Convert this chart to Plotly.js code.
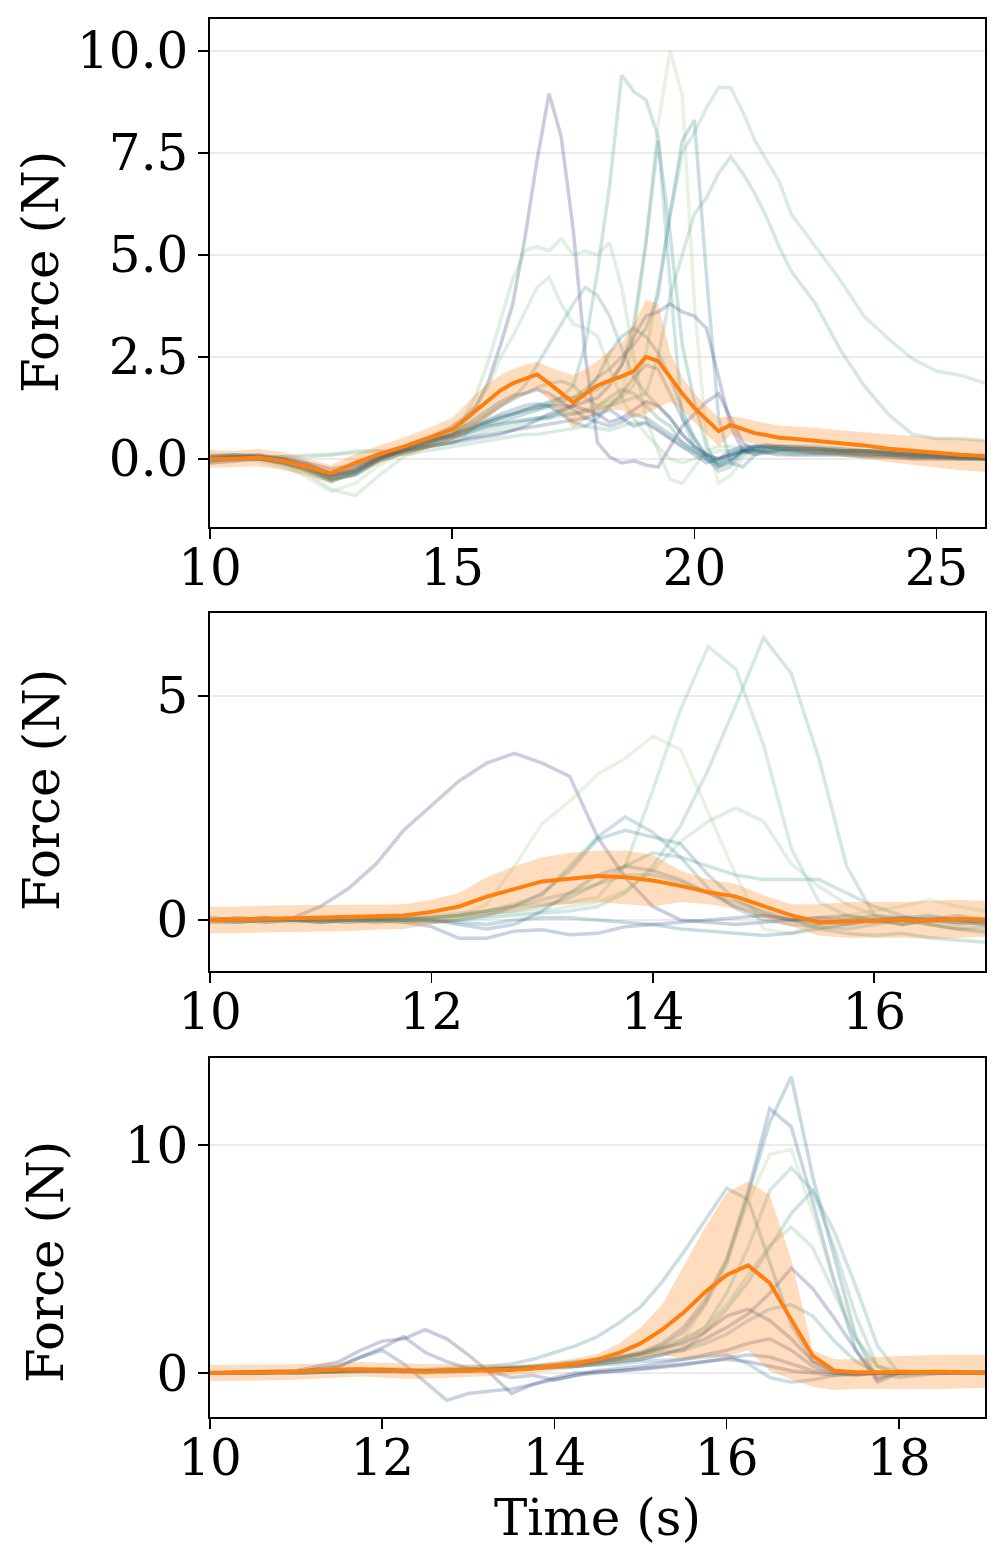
<!DOCTYPE html>
<html>
<head>
<meta charset="utf-8">
<script src="https://cdn.plot.ly/plotly-3.0.1.min.js"></script>
<style>html,body{margin:0;padding:0;background:#fff;}#chart{width:1006px;height:1566px;}</style>
</head>
<body>
<div id="chart"></div>
<script>
// ---------------- Panel 1 data ----------------
const time1 = [10,10.5,11,11.5,12,12.5,13,13.5,14,14.5,15,
  15.25,15.5,15.75,16,16.25,16.5,16.75,17,17.25,17.5,17.75,18,18.25,18.5,18.75,19,19.25,19.5,19.75,20,20.25,20.5,20.75,21,21.25,21.5,21.75,22,
  22.5,23,23.5,24,24.5,25,25.5,26];
const p1_trialA = [0.02,0.05,0.08,0.0,-0.15,-0.35,-0.2,0.05,0.25,0.5,0.8,
  1.0,1.3,1.9,2.8,3.8,5.4,7.3,8.95,7.9,5.6,2.5,0.4,0.05,-0.1,-0.05,-0.15,-0.2,0.3,0.8,1.1,1.4,1.6,1.0,0.4,0.2,0.2,0.25,0.25,
  0.2,0.2,0.15,0.1,0.1,0.05,0.05,0.0];
const p1_trialB = [-0.05,0.0,0.0,-0.1,-0.3,-0.55,-0.35,0.0,0.2,0.4,0.6,
  0.7,0.85,0.95,1.05,1.1,1.2,1.3,1.35,1.5,1.8,2.8,4.6,6.7,9.4,9.0,8.8,7.9,4.3,1.0,0.3,0.1,0.0,0.1,0.2,0.25,0.25,0.2,0.2,
  0.2,0.15,0.15,0.1,0.1,0.05,0.05,0.05];
const p1_trialC = [0.0,-0.05,0.05,-0.15,-0.45,-0.8,-0.6,-0.15,0.15,0.35,0.55,
  0.65,0.8,0.9,1.0,1.1,1.15,1.2,1.25,1.2,1.1,1.2,1.3,1.4,1.5,3.0,5.3,8.2,10.0,8.9,3.8,0.5,-0.6,-0.4,0.0,0.2,0.25,0.2,0.2,
  0.2,0.15,0.1,0.1,0.05,0.05,0.05,0.0];
const p1_trialD = [0.1,0.08,0.1,0.0,-0.2,-0.45,-0.3,0.0,0.2,0.4,0.6,
  0.7,0.8,0.9,1.0,1.1,1.2,1.3,1.4,1.5,1.5,1.6,1.7,1.9,2.3,3.3,5.3,7.8,5.5,2.8,1.4,0.3,-0.2,-0.05,0.2,0.25,0.3,0.3,0.25,
  0.25,0.2,0.2,0.15,0.1,0.1,0.05,0.05];
const p1_trialE = [0.05,0.1,0.05,0.05,-0.1,-0.4,-0.3,0.05,0.3,0.5,0.55,
  0.65,0.75,0.85,0.9,1.0,1.1,1.2,1.3,1.4,1.5,1.7,2.0,2.2,2.5,2.8,3.2,4.0,6.0,7.8,8.3,4.5,1.0,-0.1,-0.2,0.1,0.25,0.3,0.3,
  0.25,0.2,0.2,0.15,0.1,0.05,0.05,0.0];
const p1_trialF = [-0.1,-0.05,0.0,-0.1,-0.25,-0.5,-0.4,-0.05,0.15,0.3,0.4,
  0.5,0.6,0.7,0.75,0.8,0.9,0.95,1.0,1.05,1.1,1.2,1.25,1.3,1.5,1.8,2.6,4.2,6.0,7.5,8.0,8.6,9.1,9.1,8.5,7.8,7.3,6.8,6.0,
  5.2,4.4,3.5,2.95,2.45,2.15,2.05,1.85];
const p1_trialG = [0.0,0.05,0.0,-0.05,-0.25,-0.5,-0.3,0.0,0.2,0.35,0.5,
  0.6,0.7,0.8,0.85,0.9,0.95,1.0,1.05,1.1,1.1,1.15,1.2,1.3,1.4,1.5,1.6,2.5,4.0,5.0,6.0,6.4,7.0,7.4,7.0,6.5,5.9,5.2,4.6,
  3.8,2.7,1.8,1.1,0.6,0.5,0.5,0.45];
const p1_trialH = [-0.02,0.0,-0.05,-0.2,-0.35,-0.75,-0.9,-0.4,0.05,0.3,0.6,
  1.0,1.6,2.4,3.4,4.4,5.1,5.2,5.1,5.4,5.0,5.1,5.0,5.3,4.2,2.5,1.0,0.2,-0.5,-0.6,-0.2,0.2,0.3,0.3,0.25,0.25,0.2,0.2,0.2,
  0.15,0.15,0.1,0.1,0.05,0.05,0.0,0.0];
const p1_trialI = [0.0,0.02,0.0,0.05,0.1,0.1,0.2,0.2,0.15,0.3,0.5,
  0.9,1.3,1.8,2.5,3.0,3.6,4.2,4.45,3.8,3.3,3.2,3.0,2.2,1.5,1.0,0.6,0.3,0.0,-0.1,0.0,0.1,0.2,0.2,0.2,0.15,0.15,0.15,0.1,
  0.1,0.1,0.05,0.05,0.0,0.0,0.0,0.0];
const p1_trialJ = [0.05,0.05,0.1,0.0,-0.2,-0.4,-0.25,0.0,0.2,0.4,0.65,
  0.8,0.9,1.1,1.3,1.5,1.8,2.3,2.8,3.3,3.8,4.2,4.0,3.5,2.7,2.0,1.6,1.3,1.0,0.6,0.3,0.1,-0.1,0.0,0.15,0.2,0.25,0.25,0.2,
  0.2,0.15,0.15,0.1,0.05,0.05,0.0,0.0];
const p1_trialK = [0.0,0.05,0.05,-0.05,-0.2,-0.4,-0.25,0.05,0.25,0.45,0.6,
  0.7,0.8,0.9,1.0,1.1,1.2,1.25,1.3,1.3,1.3,1.4,1.5,1.8,2.3,3.0,3.5,3.6,3.8,3.6,3.5,3.2,2.0,0.8,0.2,0.1,0.15,0.2,0.2,
  0.15,0.15,0.1,0.1,0.05,0.05,0.0,0.0];
const p1_trialL = [-0.1,-0.05,0.0,-0.1,-0.25,-0.5,-0.4,-0.05,0.15,0.3,0.4,
  0.5,0.55,0.6,0.65,0.7,0.75,0.8,0.85,0.9,0.95,1.0,0.9,0.8,0.9,1.1,1.0,0.8,0.6,0.4,0.2,0.0,-0.2,-0.1,0.2,0.3,0.35,0.3,0.3,
  0.3,0.25,0.2,0.2,0.15,0.1,0.1,0.05];
const p1_trialM = [0.0,0.0,0.05,-0.05,-0.2,-0.45,-0.3,0.0,0.2,0.4,0.6,
  0.8,1.0,1.2,1.4,1.55,1.6,1.7,1.6,1.4,1.2,1.0,1.1,1.2,1.0,0.8,0.9,0.7,0.5,0.3,0.1,-0.1,0.0,0.2,0.3,0.3,0.3,0.25,0.25,
  0.25,0.2,0.2,0.15,0.1,0.1,0.05,0.05];
const p1_trialN = [0.05,0.0,0.0,-0.1,-0.3,-0.55,-0.35,0.0,0.2,0.4,0.55,
  0.7,0.9,1.1,1.3,1.45,1.6,1.75,1.85,1.9,1.8,1.5,1.3,1.5,1.7,1.6,1.3,1.0,0.8,0.4,0.2,0.0,-0.3,-0.2,0.1,0.25,0.3,0.3,0.3,
  0.25,0.25,0.2,0.15,0.15,0.1,0.05,0.05];
const p1_trialO = [0.0,0.05,0.0,-0.05,-0.2,-0.4,-0.3,0.0,0.25,0.45,0.55,
  0.6,0.8,0.95,1.1,1.2,1.3,1.35,1.3,1.1,0.9,0.8,1.0,1.3,1.6,2.0,2.3,2.2,1.6,1.0,0.5,0.1,-0.15,0.0,0.2,0.3,0.3,0.3,0.25,
  0.25,0.2,0.2,0.15,0.1,0.1,0.05,0.0];
const p1_trialP = [-0.05,0.0,0.05,-0.1,-0.25,-0.5,-0.35,0.0,0.2,0.35,0.5,
  0.6,0.7,0.8,0.85,0.9,0.95,1.0,1.0,1.15,1.3,1.6,2.0,2.6,3.0,3.2,3.0,2.6,2.0,1.2,0.5,0.0,-0.1,0.1,0.25,0.3,0.3,0.25,0.25,
  0.2,0.2,0.15,0.15,0.1,0.05,0.05,0.0];
const p1_trialQ = [0.05,0.1,0.05,0.0,-0.1,-0.25,-0.15,0.05,0.2,0.3,0.4,
  0.45,0.5,0.55,0.6,0.7,0.8,0.95,1.1,1.2,1.3,1.2,1.1,0.9,1.0,1.2,1.4,1.3,1.0,0.6,0.3,0.1,0.0,0.1,0.2,0.2,0.15,0.1,0.1,
  0.1,0.1,0.05,0.05,0.0,0.0,0.0,0.0];
const p1_trialR = [0.0,0.02,0.0,0.05,0.05,0.1,0.15,0.2,0.1,0.2,0.3,
  0.35,0.4,0.45,0.5,0.55,0.6,0.6,0.65,0.7,0.75,0.8,0.75,0.7,0.8,0.9,0.85,0.7,0.5,0.3,0.15,0.05,0.0,0.1,0.15,0.2,0.2,0.2,0.15,
  0.15,0.1,0.1,0.05,0.05,0.0,0.0,0.0];
const p1_mean = [0.0,0.0,0.03,-0.05,-0.2,-0.35,-0.1,0.12,0.3,0.5,0.72,
  0.95,1.2,1.45,1.68,1.85,1.97,2.07,1.85,1.6,1.38,1.6,1.8,1.92,2.02,2.15,2.5,2.4,2.0,1.6,1.25,0.95,0.68,0.83,0.72,0.63,0.58,0.52,0.5,
  0.45,0.38,0.33,0.25,0.2,0.13,0.1,0.07];
const p1_upper = [0.22,0.2,0.24,0.17,0.0,-0.15,0.12,0.33,0.52,0.75,1.0,
  1.3,1.6,1.85,2.05,2.2,2.3,2.38,2.25,2.15,2.05,2.2,2.4,2.65,2.85,3.3,3.9,3.8,2.6,2.0,1.6,1.3,1.0,1.05,1.0,0.93,0.87,0.82,0.8,
  0.76,0.7,0.65,0.6,0.56,0.52,0.5,0.46];
const p1_lower = [-0.22,-0.2,-0.18,-0.27,-0.42,-0.6,-0.35,-0.1,0.08,0.25,0.45,
  0.6,0.8,1.0,1.25,1.45,1.6,1.7,1.45,1.1,0.75,0.95,1.15,1.2,1.2,1.0,1.1,1.25,1.4,1.2,0.9,0.6,0.3,0.6,0.45,0.35,0.3,0.25,0.22,
  0.15,0.08,0.02,-0.08,-0.15,-0.22,-0.28,-0.32];

// ---------------- Panel 2 data ----------------
const time2 = [10,10.25,10.5,10.75,11,11.25,11.5,11.75,12,12.25,12.5,12.75,13,13.25,13.5,13.75,14,14.25,14.5,14.75,15,15.25,15.5,15.75,16,16.25,16.5,16.75,17];
const p2_trial01 = [0,0.02,0,0.05,0.3,0.7,1.25,2.0,2.55,3.1,3.5,3.72,3.5,3.2,1.85,0.95,0.3,0.0,-0.05,-0.1,-0.05,0.0,0.05,0.0,-0.05,0.0,0.05,0.0,-0.05];
const p2_trial02 = [0.0,-0.05,0.0,0.05,0.0,-0.05,0.0,0.05,0.1,0.15,0.2,0.3,0.35,0.4,0.5,1.2,2.9,4.7,6.1,5.6,3.9,1.6,0.4,0.1,0.0,-0.1,0.0,0.05,0.0];
const p2_trial03 = [0.05,0,0.05,0,-0.05,0,0.05,0,-0.05,0,0.05,0.1,0.15,0.2,0.3,0.6,1.2,2.1,3.35,4.8,6.3,5.5,3.6,1.2,0.1,-0.1,0,-0.05,-0.1];
const p2_trial04 = [-0.05,0,0.05,0,0,0.05,0,0.05,0.05,0.1,0.35,1.2,2.15,2.65,3.25,3.6,4.1,3.8,2.4,1.0,-0.2,-0.3,-0.1,0.1,0.2,0.3,0.45,0.3,0.2];
const p2_trial05 = [0.0,0.05,0.0,-0.05,0.0,0.05,0.0,-0.05,0.0,0.05,0.1,0.15,0.2,0.3,0.4,0.65,1.1,1.75,2.2,2.5,2.2,1.25,0.75,0.35,0.1,0.0,-0.1,-0.2,-0.3];
const p2_trial06 = [0.0,0.0,-0.05,0.0,0.05,0.0,0.0,0.05,0.05,0.1,0.15,0.2,0.3,0.5,0.8,1.2,1.5,1.4,1.2,1.0,0.9,0.9,0.9,0.6,0.3,0.1,-0.1,-0.2,-0.15];
const p2_trial07 = [0.0,-0.05,0.0,0.0,0.05,0.0,-0.05,0.0,0.05,0.1,0.2,0.35,0.55,1.2,1.85,2.3,1.95,1.4,0.7,0.25,0.0,-0.1,-0.15,-0.2,-0.1,0.0,-0.1,-0.2,-0.25];
const p2_trial08 = [0.05,0.0,-0.05,0.0,0.0,0.05,0.0,0.0,-0.05,0.0,0.1,0.3,0.6,1.1,1.8,2.0,1.85,1.7,1.0,0.45,0.15,0.0,-0.1,0.0,0.1,0.05,0.0,-0.1,-0.05];
const p2_trial09 = [-0.05,-0.05,0.0,0.0,0.0,-0.05,0.0,0.05,0.0,-0.1,-0.2,-0.1,0.2,0.6,1.0,1.2,1.1,0.9,0.6,0.3,0.1,0.0,0.05,0.1,0.0,-0.1,0.0,0.1,0.0];
const p2_trial10 = [0.0,0.0,0.05,0.0,-0.05,0.0,0.0,-0.05,-0.15,-0.41,-0.41,-0.25,-0.22,-0.33,-0.3,-0.15,-0.1,-0.05,0.0,0.05,0.1,0.0,-0.05,-0.1,0.0,0.05,0.0,-0.05,0.0];
const p2_trial11 = [0.0,0.05,0.0,0.0,-0.05,0.0,0.05,0.0,0.0,-0.05,-0.1,0.0,0.05,0.05,0.0,-0.05,-0.1,-0.2,-0.25,-0.3,-0.35,-0.3,-0.2,-0.1,0.0,0.05,0.1,0.0,-0.1];
const p2_trial12 = [0.0,0.0,0.05,0.0,0.0,0.0,-0.05,0.0,0.05,0.1,0.2,0.3,0.45,0.6,0.8,1.0,1.0,0.85,0.6,0.4,0.2,0.0,-0.2,-0.3,-0.35,-0.3,-0.4,-0.45,-0.5];
const p2_mean = [0,0.0,0.02,0.04,0.05,0.06,0.08,0.1,0.18,0.3,0.52,0.7,0.86,0.92,0.98,0.95,0.88,0.76,0.62,0.52,0.3,0.1,-0.05,-0.03,-0.02,0.0,-0.02,0.02,0.01];
const p2_upper = [0.3,0.3,0.32,0.33,0.33,0.34,0.34,0.35,0.45,0.6,0.95,1.2,1.4,1.5,1.55,1.55,1.45,1.1,0.9,0.8,0.55,0.35,0.35,0.4,0.4,0.4,0.42,0.45,0.42];
const p2_lower = [-0.3,-0.3,-0.28,-0.27,-0.26,-0.25,-0.22,-0.2,-0.1,0.0,0.1,0.2,0.3,0.35,0.4,0.35,0.3,0.4,0.35,0.25,0.05,-0.15,-0.35,-0.4,-0.4,-0.4,-0.42,-0.4,-0.38];

// ---------------- Panel 3 data ----------------
const time3 = [10,10.5,11,11.5,11.75,12,12.25,12.5,12.75,13,13.25,13.5,13.75,14,14.25,14.5,14.75,15,15.25,15.5,15.75,16,16.25,16.5,16.75,17,17.25,17.5,17.75,18,18.5,19];
const p3_trial01 = [0.0,0.05,0.1,0.15,0.2,0.2,0.15,0.1,0.1,0.15,0.2,0.25,0.3,0.4,0.5,0.6,0.7,0.85,1.2,1.8,3.0,4.8,7.8,11.0,13.0,8.6,5.1,1.6,-0.3,0.1,0.0,0.05];
const p3_trial02 = [0.0,0.0,0.05,0.1,0.1,0.15,0.1,0.1,0.05,0.1,0.15,0.2,0.25,0.35,0.45,0.55,0.7,0.9,1.3,2.0,3.2,5.0,8.0,11.6,10.8,7.5,4.0,1.0,-0.2,0.0,0.05,0.0];
const p3_trial03 = [0.0,0.05,0.05,0.1,0.15,0.1,0.1,0.15,0.2,0.25,0.3,0.4,0.6,0.9,1.2,1.6,2.2,2.9,4.0,5.3,6.7,8.1,7.6,4.8,2.1,0.5,0.1,0.0,0.0,0.05,0.0,0.05];
const p3_trial04 = [0.0,0.0,0.05,0.1,0.15,0.1,0.05,0.1,0.15,0.2,0.2,0.25,0.3,0.35,0.45,0.55,0.7,0.9,1.1,1.5,3.0,5.0,7.5,9.6,9.8,7.0,4.0,1.5,0.3,0.1,0.0,0.05];
const p3_trial05 = [0.05,0.0,0.05,0.1,0.1,0.15,0.1,0.05,0.1,0.15,0.2,0.2,0.25,0.3,0.4,0.5,0.6,0.8,1.1,1.5,2.0,3.5,5.5,8.0,9.0,8.0,5.5,2.5,0.3,-0.1,0.0,0.0];
const p3_trial06 = [0.0,0.05,0.0,0.05,0.1,0.1,0.15,0.1,0.1,0.15,0.15,0.2,0.25,0.3,0.35,0.45,0.6,0.75,0.9,1.0,1.8,2.8,4.0,5.5,7.0,8.0,6.2,3.8,1.2,0.0,0.05,0.0];
const p3_trial07 = [0.0,0.0,0.05,0.05,0.1,0.1,0.05,0.1,0.15,0.15,0.2,0.25,0.3,0.35,0.4,0.5,0.65,0.8,1.0,1.4,2.0,3.0,4.3,5.6,6.4,5.5,3.5,1.5,0.3,0.0,0.05,0.0];
const p3_trial08 = [0.0,0.05,0.0,0.05,0.1,0.05,0.1,0.1,0.15,0.1,0.15,0.2,0.2,0.25,0.3,0.4,0.5,0.6,0.8,1.1,1.5,2.0,2.6,3.5,4.6,3.7,2.4,1.0,-0.4,0.0,0.05,0.0];
const p3_trial09 = [0.0,0.0,0.05,0.1,0.1,0.15,0.1,0.1,0.1,0.1,0.15,0.2,0.25,0.3,0.4,0.5,0.65,0.85,1.1,1.3,1.8,2.5,2.8,2.3,1.5,0.5,0.1,0.0,0.0,0.05,0.0,0.0];
const p3_trial10 = [0.0,0.05,0.1,0.5,1.0,1.4,1.5,1.9,1.5,0.8,0.0,-0.9,-0.5,-0.2,0.0,0.05,0.1,0.2,0.3,0.4,0.5,0.6,0.5,0.3,0.1,0.0,-0.1,-0.05,0.0,0.0,0.05,0.0];
const p3_trial11 = [0.0,0.0,0.05,0.3,0.7,1.1,1.6,0.9,0.5,0.2,0.1,-0.2,-0.1,-0.3,-0.1,0.1,0.2,0.3,0.45,0.6,0.8,1.0,1.3,1.5,1.0,0.3,0.0,-0.1,0.0,0.0,0.05,0.0];
const p3_trial12 = [0.0,0.0,0.05,0.3,0.7,1.0,0.4,-0.4,-1.2,-0.9,-0.8,-0.7,-0.5,-0.3,-0.1,0.0,0.1,0.15,0.25,0.35,0.5,0.65,0.8,0.7,0.4,0.1,0.0,-0.05,0.0,0.0,0.0,0.05];
const p3_trial13 = [0.0,0.0,0.0,0.05,0.05,0.1,0.05,0.0,0.05,0.1,0.1,0.15,0.2,0.25,0.3,0.35,0.4,0.5,0.55,0.6,0.7,0.8,0.4,-0.2,-0.4,-0.3,-0.1,0.0,0.0,0.05,0.0,0.0];
const p3_trial14 = [0.0,0.0,0.0,0.05,0.1,0.1,0.1,0.05,0.1,0.1,0.15,0.15,0.2,0.25,0.3,0.4,0.5,0.6,0.8,1.0,1.3,1.7,2.3,2.8,3.0,2.5,1.4,0.5,0.0,-0.2,0.0,0.0];
const p3_mean = [0,0.02,0.05,0.15,0.17,0.12,0.08,0.07,0.1,0.12,0.1,0.13,0.2,0.3,0.42,0.6,0.88,1.3,1.9,2.65,3.55,4.3,4.72,3.95,2.35,0.75,0.1,0.03,0.03,0.05,0.05,0.0];
const p3_upper = [0.35,0.36,0.38,0.45,0.48,0.45,0.42,0.4,0.4,0.4,0.38,0.35,0.4,0.5,0.65,0.85,1.3,2.0,3.0,4.7,6.4,7.9,8.4,7.8,5.0,1.0,0.6,0.6,0.7,0.75,0.8,0.8];
const p3_lower = [-0.35,-0.33,-0.3,-0.2,-0.15,-0.2,-0.25,-0.25,-0.22,-0.18,-0.15,-0.1,0.0,0.1,0.2,0.35,0.45,0.6,0.8,0.6,0.7,0.7,1.0,0.1,-0.3,-0.6,-0.75,-0.7,-0.7,-0.7,-0.7,-0.65];

// ---------------- Tick labels ----------------
const p1_xticks = [10,15,20,25];
const p1_yticks = [0,2.5,5,7.5,10];
const p1_yticklabels = ['0.0','2.5','5.0','7.5','10.0'];
const p2_xticks = [10,12,14,16];
const p2_yticks = [0,5];
const p2_yticklabels = ['0','5'];
const p3_xticks = [10,12,14,16,18];
const p3_yticks = [0,10];
const p3_yticklabels = ['0','10'];
const yTitle = 'Force (N)';
const xTitle = 'Time (s)';

// ---------------- Styling ----------------
const crest = {
  g1:'#a5cd90', g2:'#85c08f', g3:'#68b28e', t1:'#53a38c', t2:'#42958b', t3:'#34878b',
  t4:'#2b798b', b1:'#246a89', b2:'#245c87', b3:'#254c83', p1:'#283e7d', p2:'#2c3172'
};
function rgba(hex, a){
  const n = parseInt(hex.slice(1),16);
  return 'rgba('+((n>>16)&255)+','+((n>>8)&255)+','+(n&255)+','+a+')';
}
const TRIAL_ALPHA = 0.25;
const FONT = 'DejaVu Serif, Liberation Serif, serif';
const FSIZE = 50;

const panels = [
  {x:time1, xa:'x', ya:'y', mean:p1_mean, up:p1_upper, lo:p1_lower, trials:[
    [p1_trialR,crest.g3],[p1_trialA,crest.p2],[p1_trialB,crest.t2],[p1_trialC,crest.g1],[p1_trialD,crest.t3],
    [p1_trialE,crest.t4],[p1_trialF,crest.g3],[p1_trialG,crest.t1],[p1_trialH,crest.g2],[p1_trialI,crest.g2],
    [p1_trialJ,crest.t2],[p1_trialK,crest.p1],[p1_trialL,crest.b2],[p1_trialM,crest.b3],[p1_trialN,crest.t3],
    [p1_trialO,crest.b1],[p1_trialP,crest.t4],[p1_trialQ,crest.p2]]},
  {x:time2, xa:'x2', ya:'y2', mean:p2_mean, up:p2_upper, lo:p2_lower, trials:[
    [p2_trial01,crest.p1],[p2_trial02,crest.g3],[p2_trial03,crest.t1],[p2_trial04,crest.g1],[p2_trial05,crest.g2],
    [p2_trial06,crest.t2],[p2_trial07,crest.t3],[p2_trial08,crest.t4],[p2_trial09,crest.b2],[p2_trial10,crest.b3],
    [p2_trial11,crest.b1],[p2_trial12,crest.t2]]},
  {x:time3, xa:'x3', ya:'y3', mean:p3_mean, up:p3_upper, lo:p3_lower, trials:[
    [p3_trial01,crest.b1],[p3_trial02,crest.b2],[p3_trial03,crest.t4],[p3_trial04,crest.g1],[p3_trial05,crest.t1],
    [p3_trial06,crest.t2],[p3_trial07,crest.g3],[p3_trial08,crest.p1],[p3_trial09,crest.p2],[p3_trial10,crest.p2],
    [p3_trial11,crest.p1],[p3_trial12,crest.b3],[p3_trial13,crest.t4],[p3_trial14,crest.t3]]}
];

const traces = [];
panels.forEach(p => {
  p.trials.forEach(([ys,c]) => {
    traces.push({type:'scatter', mode:'lines', x:p.x, y:ys, xaxis:p.xa, yaxis:p.ya,
      line:{color:rgba(c,TRIAL_ALPHA), width:3.5}, hoverinfo:'skip', showlegend:false});
  });
  traces.push({type:'scatter', mode:'lines', x:p.x, y:p.lo, xaxis:p.xa, yaxis:p.ya,
    line:{width:0, color:'rgba(0,0,0,0)'}, hoverinfo:'skip', showlegend:false});
  traces.push({type:'scatter', mode:'lines', x:p.x, y:p.up, xaxis:p.xa, yaxis:p.ya, fill:'tonexty',
    fillcolor:'rgba(255,127,14,0.27)', line:{width:0, color:'rgba(0,0,0,0)'}, hoverinfo:'skip', showlegend:false});
  traces.push({type:'scatter', mode:'lines', x:p.x, y:p.mean, xaxis:p.xa, yaxis:p.ya,
    line:{color:'#ff7f0e', width:4}, hoverinfo:'skip', showlegend:false});
});

const W = 1006, H = 1566;
const xDom = [210/W, 985/W];
const yDom1 = [1-527/H, 1-19/H];
const yDom2 = [1-971/H, 1-613/H];
const yDom3 = [1-1417/H, 1-1058/H];

const axBase = {
  showline:true, mirror:true, linecolor:'black', linewidth:1.6,
  ticks:'outside', ticklen:10, tickwidth:1.6, tickcolor:'black',
  tickfont:{family:FONT, size:FSIZE, color:'black'},
  zeroline:false, automargin:false, fixedrange:true
};
function xax(range, ticks, anchor){
  return Object.assign({}, axBase, {domain:xDom, range:range, tickmode:'array', tickvals:ticks,
    ticktext:ticks.map(String), showgrid:false, anchor:anchor, ticklabelstandoff:-14});
}
function yax(range, ticks, labels, dom, anchor){
  return Object.assign({}, axBase, {domain:dom, range:range, tickmode:'array', tickvals:ticks,
    ticktext:labels, showgrid:true, gridcolor:'#ebebeb', gridwidth:2, anchor:anchor, ticklabelstandoff:0});
}
function yLab(xpx, ypx){
  return {text:yTitle, xref:'paper', yref:'paper', x:xpx/W, y:1-ypx/H, textangle:-90, showarrow:false,
    xanchor:'center', yanchor:'middle', font:{family:FONT, size:FSIZE, color:'black'}};
}

const layout = {
  width:W, height:H, margin:{l:0,r:0,t:0,b:0},
  paper_bgcolor:'white', plot_bgcolor:'white', showlegend:false,
  font:{family:FONT, color:'black'},
  xaxis: xax([10,26], p1_xticks, 'y'),
  yaxis: yax([-1.67,10.78], p1_yticks, p1_yticklabels, yDom1, 'x'),
  xaxis2: xax([10,17], p2_xticks, 'y2'),
  yaxis2: yax([-1.14,6.85], p2_yticks, p2_yticklabels, yDom2, 'x2'),
  xaxis3: xax([10,19], p3_xticks, 'y3'),
  yaxis3: yax([-1.93,13.82], p3_yticks, p3_yticklabels, yDom3, 'x3'),
  annotations: [
    yLab(41, 272), yLab(42, 790), yLab(46, 1262),
    {text:xTitle, xref:'paper', yref:'paper', x:(xDom[0]+xDom[1])/2, y:1-1518/H, showarrow:false,
      xanchor:'center', yanchor:'middle', font:{family:FONT, size:FSIZE, color:'black'}}
  ]
};

Plotly.newPlot('chart', traces, layout, {staticPlot:true, displayModeBar:false});
</script>
</body>
</html>
